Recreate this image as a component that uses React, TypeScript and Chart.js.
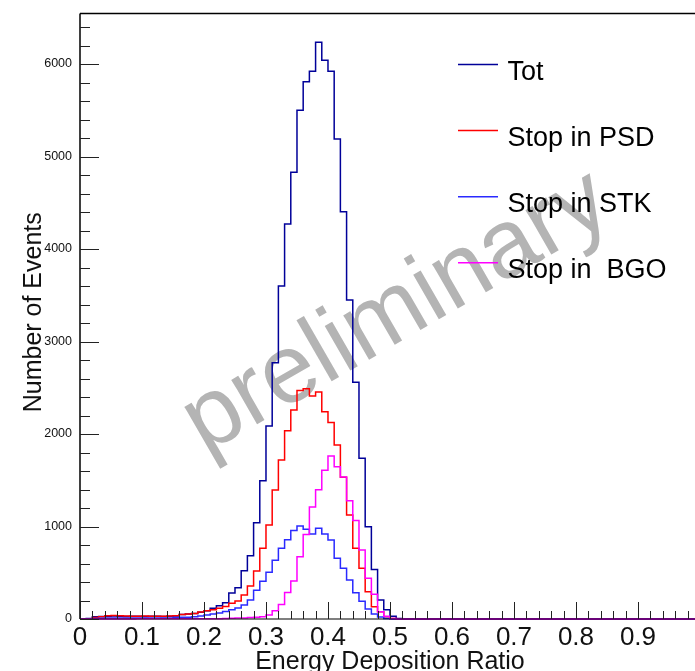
import React, { useEffect, useRef } from 'react';
import { Chart, registerables } from 'chart.js';
Chart.register(...registerables);

// ---- data ----
const BIN_WIDTH = 0.01;
const N_BINS = 100;

const xTickLabels = ['0', '0.1', '0.2', '0.3', '0.4', '0.5', '0.6', '0.7', '0.8', '0.9'];
const xTickValues = [0, 0.1, 0.2, 0.3, 0.4, 0.5, 0.6, 0.7, 0.8, 0.9];
const yTickLabels = ['0', '1000', '2000', '3000', '4000', '5000', '6000'];
const yTickValues = [0, 1000, 2000, 3000, 4000, 5000, 6000];

const seriesNames = ['Tot', 'Stop in PSD', 'Stop in STK', 'Stop in  BGO'];
const seriesColors = ['#000099', '#ff0000', '#2a2aff', '#ff00ff'];

const totCounts = [
  0, 0, 5, 25, 28, 30, 32, 30, 28, 30,
  30, 28, 30, 30, 28, 30, 32, 50, 54, 60,
  72, 90, 115, 144, 176, 280, 338, 522, 684, 1041,
  1495, 2086, 2771, 3600, 4270, 4829, 5500, 5809, 5921, 6235,
  6040, 5921, 5189, 4403, 3449, 2559, 1737, 998, 535, 205,
  100, 30, 5, 0, 0, 0, 0, 0, 0, 0,
  0, 0, 0, 0, 0, 0, 0, 0, 0, 0,
  0, 0, 0, 0, 0, 0, 0, 0, 0, 0,
  0, 0, 0, 0, 0, 0, 0, 0, 0, 0,
  0, 0, 0, 0, 0, 0, 0, 0, 0, 0,
];

const psdCounts = [
  0, 0, 0, 15, 25, 35, 38, 35, 32, 30,
  30, 32, 30, 30, 30, 32, 35, 50, 55, 60,
  75, 90, 100, 115, 135, 170, 195, 259, 357, 519,
  764, 1016, 1395, 1719, 2036, 2259, 2470, 2490, 2411, 2454,
  2241, 2123, 1881, 1532, 1124, 764, 548, 295, 133, 79,
  25, 5, 0, 0, 0, 0, 0, 0, 0, 0,
  0, 0, 0, 0, 0, 0, 0, 0, 0, 0,
  0, 0, 0, 0, 0, 0, 0, 0, 0, 0,
  0, 0, 0, 0, 0, 0, 0, 0, 0, 0,
  0, 0, 0, 0, 0, 0, 0, 0, 0, 0,
];

const stkCounts = [
  0, 0, 0, 5, 8, 10, 10, 10, 10, 10,
  10, 10, 10, 12, 12, 12, 15, 18, 20, 25,
  32, 43, 55, 65, 80, 100, 120, 151, 205, 310,
  407, 505, 634, 764, 858, 958, 1005, 969, 919, 980,
  919, 854, 656, 548, 422, 285, 191, 108, 54, 22,
  5, 0, 0, 0, 0, 0, 0, 0, 0, 0,
  0, 0, 0, 0, 0, 0, 0, 0, 0, 0,
  0, 0, 0, 0, 0, 0, 0, 0, 0, 0,
  0, 0, 0, 0, 0, 0, 0, 0, 0, 0,
  0, 0, 0, 0, 0, 0, 0, 0, 0, 0,
];

const bgoCounts = [
  0, 0, 0, 0, 0, 0, 0, 0, 0, 0,
  2, 2, 2, 2, 2, 2, 2, 2, 2, 2,
  3, 3, 4, 4, 5, 8, 10, 12, 15, 20,
  25, 43, 88, 156, 286, 412, 674, 914, 1210, 1398,
  1607, 1762, 1647, 1534, 1279, 1066, 746, 440, 268, 79,
  30, 5, 0, 0, 0, 0, 0, 0, 0, 0,
  0, 0, 0, 0, 0, 0, 0, 0, 0, 0,
  0, 0, 0, 0, 0, 0, 0, 0, 0, 0,
  0, 0, 0, 0, 0, 0, 0, 0, 0, 0,
  0, 0, 0, 0, 0, 0, 0, 0, 0, 0,
];

const allCounts = [totCounts, psdCounts, stkCounts, bgoCounts];

const X_MAX = 0.992;
const Y_MAX = 6546;
const FONT = "'Liberation Sans', Arial, Helvetica, sans-serif";

function stepPoints(counts: number[]) {
  const pts = counts.map((v, i) => ({ x: i * BIN_WIDTH, y: v }));
  pts.push({ x: N_BINS * BIN_WIDTH, y: counts[counts.length - 1] });
  return pts;
}

const rootPlugin = {
  id: 'rootStyle',
  beforeDatasetsDraw(chart: any) {
    const { ctx } = chart;
    ctx.save();
    ctx.translate(410, 336);
    ctx.rotate((-30 * Math.PI) / 180);
    ctx.font = `97px ${FONT}`;
    ctx.fillStyle = '#b4b4b4';
    ctx.textAlign = 'center';
    ctx.textBaseline = 'alphabetic';
    ctx.fillText('preliminary', 0, 0);
    ctx.restore();
  },
  afterDatasetsDraw(chart: any) {
    const { ctx, chartArea } = chart;
    const xs = chart.scales.x;
    const ys = chart.scales.y;
    const { left, right, top, bottom } = chartArea;
    ctx.save();
    ctx.strokeStyle = '#000';
    ctx.lineWidth = 1.5;
    ctx.beginPath();
    ctx.moveTo(left, top);
    ctx.lineTo(right, top);
    ctx.moveTo(left, top);
    ctx.lineTo(left, bottom);
    ctx.stroke();
    ctx.lineWidth = 1.2;
    ctx.beginPath();
    ctx.moveTo(left, bottom);
    ctx.lineTo(right, bottom);
    ctx.stroke();

    ctx.strokeStyle = '#222';
    ctx.lineWidth = 1;
    ctx.beginPath();
    for (let v = 0; v <= Y_MAX; v += 200) {
      const y = Math.round(ys.getPixelForValue(v)) + 0.5;
      const len = v % 1000 === 0 ? 19 : 10;
      ctx.moveTo(left, y);
      ctx.lineTo(left + len, y);
    }
    for (let k = 0; k * 0.02 <= X_MAX + 1e-9; k++) {
      const v = k * 0.02;
      const x = Math.round(xs.getPixelForValue(v)) + 0.5;
      const len = k % 5 === 0 ? 17 : 8;
      ctx.moveTo(x, bottom);
      ctx.lineTo(x, bottom - len);
    }
    ctx.stroke();

    ctx.fillStyle = '#111';
    ctx.font = `12.5px ${FONT}`;
    ctx.textAlign = 'right';
    ctx.textBaseline = 'middle';
    yTickValues.forEach((v, i) => {
      ctx.fillText(yTickLabels[i], left - 8, ys.getPixelForValue(v));
    });
    ctx.font = `26px ${FONT}`;
    ctx.textAlign = 'center';
    ctx.textBaseline = 'alphabetic';
    xTickValues.forEach((v, i) => {
      ctx.fillText(xTickLabels[i], xs.getPixelForValue(v), 645);
    });
    ctx.font = `25px ${FONT}`;
    ctx.fillText('Energy Deposition Ratio', xs.getPixelForValue(0.5), 669);
    ctx.save();
    ctx.translate(41, (top + bottom) / 2 - 4);
    ctx.rotate(-Math.PI / 2);
    ctx.fillText('Number of Events', 0, 0);
    ctx.restore();

    ctx.font = `27px ${FONT}`;
    ctx.textAlign = 'left';
    seriesNames.forEach((name, i) => {
      const y = 64.5 + i * 66.1;
      ctx.strokeStyle = seriesColors[i];
      ctx.lineWidth = 1.5;
      ctx.beginPath();
      ctx.moveTo(458, y);
      ctx.lineTo(498, y);
      ctx.stroke();
      ctx.fillStyle = '#000';
      ctx.fillText(name, 507.5, y + 15.5);
    });
    ctx.restore();
  },
};

export default function App() {
  const ref = useRef<HTMLCanvasElement | null>(null);
  useEffect(() => {
    if (!ref.current) return;
    const order = [4, 3, 2, 1];
    const chart = new Chart(ref.current, {
      type: 'line',
      data: {
        datasets: allCounts.map((counts, i) => ({
          label: seriesNames[i],
          data: stepPoints(counts),
          borderColor: seriesColors[i],
          borderWidth: 1.5,
          pointRadius: 0,
          stepped: 'after' as const,
          fill: false,
          clip: false as any,
          order: order[i],
        })),
      },
      options: {
        animation: false,
        responsive: false,
        events: [],
        layout: { padding: { left: 80, top: 13.5, right: 0, bottom: 52 } },
        plugins: { legend: { display: false }, tooltip: { enabled: false } },
        scales: {
          x: { type: 'linear', min: 0, max: X_MAX, display: false },
          y: { type: 'linear', min: 0, max: Y_MAX, display: false },
        },
      },
      plugins: [rootPlugin],
    });
    return () => chart.destroy();
  }, []);
  return (
    <div style={{ position: 'fixed', left: 0, top: 0, width: 695, height: 671, background: '#fff' }}>
      <canvas ref={ref} width={695} height={671} style={{ width: 695, height: 671, display: 'block' }} />
    </div>
  );
}
